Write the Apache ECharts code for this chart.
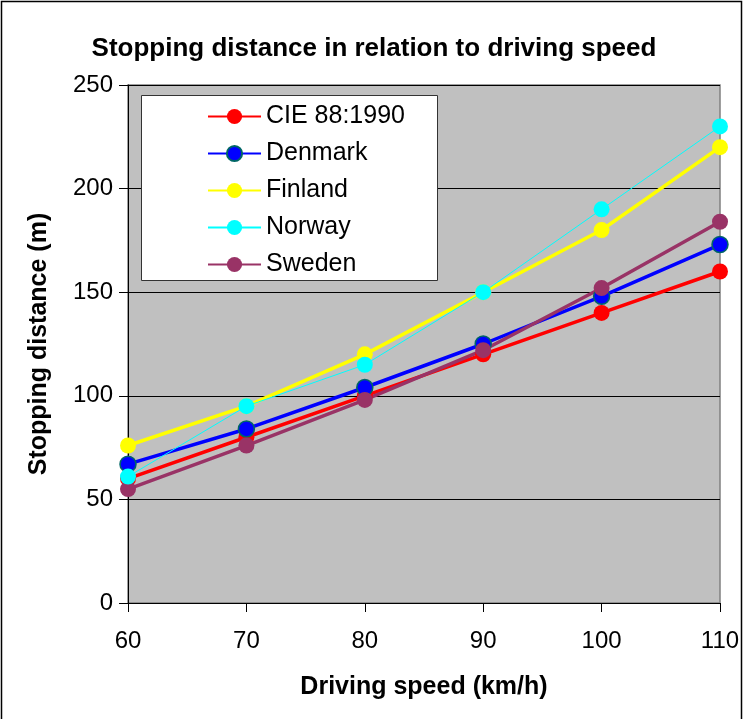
<!DOCTYPE html>
<html>
<head>
<meta charset="utf-8">
<script src="https://cdn.jsdelivr.net/npm/echarts@6/dist/echarts.min.js"></script>
<style>
html,body{margin:0;padding:0;background:#fff;}
#chart{width:748px;height:719px;}
</style>
</head>
<body>
<div id="chart"></div>
<script>
var speeds = [60, 70, 80, 90, 100, 110];
var seriesNames = ['CIE 88:1990', 'Denmark', 'Finland', 'Norway', 'Sweden'];
var cie = [60, 80, 100, 120, 140, 160];
var denmark = [67, 84, 104, 125, 148, 173];
var finland = [76, 95, 120, 150, 180, 220];
var norway = [61, 95, 115, 150, 190, 230];
var sweden = [55, 76, 98, 122, 152, 184];
var yTicks = [0, 50, 100, 150, 200, 250];
var xTicks = [60, 70, 80, 90, 100, 110];

var colors = ['#FF0000', '#0000FF', '#FFFF00', '#00FFFF', '#993366'];
var widths = [3.5, 3.5, 3.5, 1, 3.5];
var values = [cie, denmark, finland, norway, sweden];
var FONT = 'Liberation Sans, Arial, sans-serif';

function pairs(v){ return speeds.map(function(s,i){ return [s, v[i]]; }); }

var series = seriesNames.map(function(n, k){
  return {
    name: n,
    type: 'line',
    data: pairs(values[k]),
    symbol: 'circle',
    symbolSize: 16,
    z: 2 + (k === 3 ? 1 : 0),
    lineStyle: { color: colors[k], width: widths[k] },
    itemStyle: {
      color: colors[k],
      borderColor: k === 1 ? '#006666' : colors[k],
      borderWidth: k === 1 ? 1.5 : 0
    },
    emphasis: { disabled: true },
    animation: false
  };
});

var chart = echarts.init(document.getElementById('chart'), null, {renderer: 'canvas'});
chart.setOption({
  backgroundColor: '#FFFFFF',
  animation: false,
  textStyle: { fontFamily: FONT },
  title: {
    text: 'Stopping distance in relation to driving speed',
    left: 'center',
    top: 31,
    textStyle: { fontFamily: FONT, fontSize: 26, fontWeight: 'bold', color: '#000' }
  },
  graphic: [
    { type: 'rect', shape: { x: 1.5, y: 1.5, width: 740, height: 722 }, style: { fill: null, stroke: '#000', lineWidth: 1.5 }, silent: true, z: 100 },
    { type: 'rect', shape: { x: 141.5, y: 95.5, width: 296, height: 185 }, style: { fill: '#FFFFFF', stroke: '#333333', lineWidth: 1 }, silent: true, z: 5 }
  ],
  legend: {
    orient: 'vertical',
    left: 202,
    top: 99,
    data: seriesNames,
    itemWidth: 53,
    itemHeight: 19,
    itemGap: 12,
    z: 10,
    selectedMode: false,
    textStyle: { fontFamily: FONT, fontSize: 25, color: '#000' }
  },
  grid: {
    left: 128, right: 28, top: 85, bottom: 116,
    show: true,
    backgroundColor: '#C0C0C0',
    borderColor: '#808080',
    borderWidth: 1.5
  },
  xAxis: {
    type: 'value',
    min: xTicks[0], max: xTicks[xTicks.length-1], interval: 10,
    name: 'Driving speed (km/h)',
    nameLocation: 'middle',
    nameGap: 72,
    nameTextStyle: { fontFamily: FONT, fontSize: 25, fontWeight: 'bold', color: '#000' },
    axisLine: { show: true, onZero: false, lineStyle: { color: '#000', width: 1 } },
    axisTick: { show: true, inside: false, length: 9, lineStyle: { color: '#000' } },
    axisLabel: { fontSize: 24, color: '#000', margin: 26, fontFamily: FONT },
    splitLine: { show: false }
  },
  yAxis: {
    type: 'value',
    min: yTicks[0], max: yTicks[yTicks.length-1], interval: 50,
    name: 'Stopping distance (m)',
    nameLocation: 'middle',
    nameGap: 76,
    nameTextStyle: { fontFamily: FONT, fontSize: 25, fontWeight: 'bold', color: '#000' },
    axisLine: { show: true, lineStyle: { color: '#000', width: 1 } },
    axisTick: { show: true, inside: false, length: 9, lineStyle: { color: '#000' } },
    axisLabel: { fontSize: 24, color: '#000', margin: 15, fontFamily: FONT },
    splitLine: { show: true, lineStyle: { color: '#000', width: 1 } }
  },
  series: series
});
</script>
</body>
</html>
